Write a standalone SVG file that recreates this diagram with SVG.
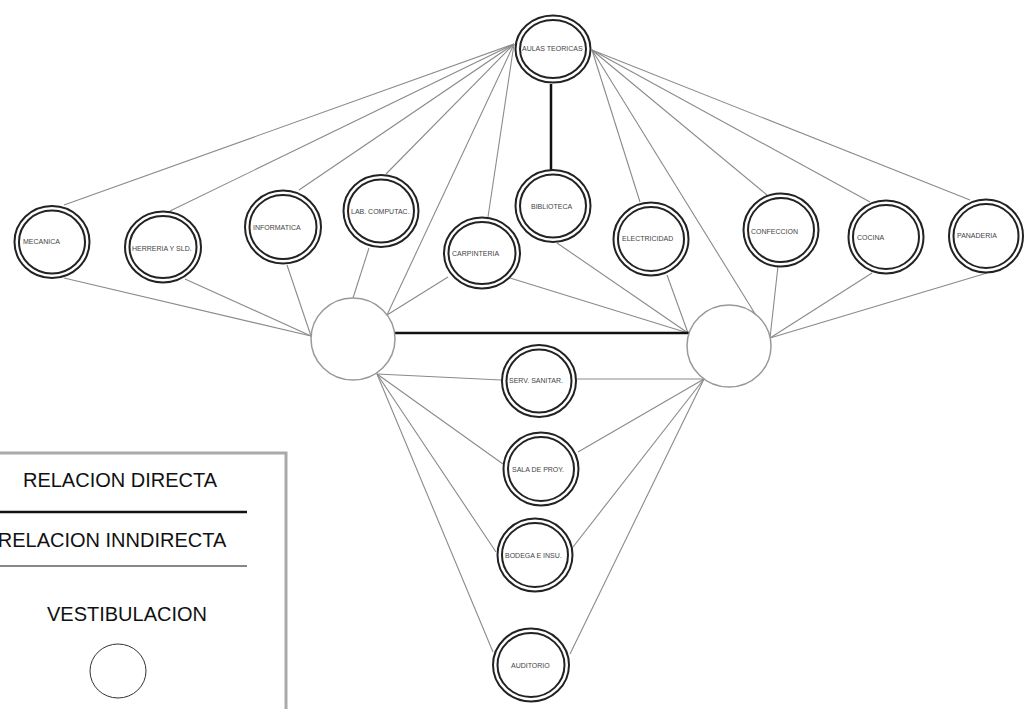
<svg xmlns="http://www.w3.org/2000/svg" width="1029" height="709" viewBox="0 0 1029 709">
<style>
.o{fill:#fff;stroke:#222;stroke-width:2}
.i{fill:none;stroke:#222;stroke-width:2}
.t{font-family:"Liberation Sans",Arial,sans-serif;font-size:7px;fill:#444}
.c line{stroke:#8a8a8a;stroke-width:1.1}
.c .d{stroke:#111;stroke-width:2.5}
.v{fill:#fff;stroke:#999;stroke-width:1.5}
.lg{font-family:"Liberation Sans",Arial,sans-serif;font-size:20px;fill:#111}
</style>
<rect width="1029" height="709" fill="#fff"/>
<g class="c" id="connectors">
<line x1="514" y1="44" x2="64" y2="205"/>
<line x1="514" y1="44" x2="170" y2="211"/>
<line x1="514" y1="44" x2="299" y2="190"/>
<line x1="514" y1="44" x2="386" y2="174"/>
<line x1="514" y1="44" x2="387" y2="315"/>
<line x1="514" y1="44" x2="488" y2="217"/>
<line x1="592" y1="50" x2="640" y2="202"/>
<line x1="592" y1="50" x2="770" y2="338"/>
<line x1="592" y1="50" x2="767" y2="195"/>
<line x1="592" y1="50" x2="870" y2="202"/>
<line x1="592" y1="50" x2="970" y2="200"/>
<line class="d" x1="551" y1="84" x2="551" y2="170"/>
<line x1="64" y1="278" x2="311" y2="336"/>
<line x1="185" y1="279" x2="311" y2="336"/>
<line x1="287" y1="265" x2="311" y2="336"/>
<line x1="369" y1="248" x2="353" y2="298"/>
<line x1="448" y1="277" x2="387" y2="315"/>
<line x1="510" y1="278" x2="688" y2="333"/>
<line x1="557" y1="243" x2="688" y2="333"/>
<line x1="667" y1="275" x2="688" y2="333"/>
<line x1="778" y1="266" x2="770" y2="338"/>
<line x1="872" y1="273" x2="770" y2="338"/>
<line x1="987" y1="273" x2="770" y2="338"/>
<line class="d" x1="394" y1="333" x2="689" y2="333"/>
<line x1="377" y1="374" x2="501" y2="380"/>
<line x1="377" y1="374" x2="503" y2="464"/>
<line x1="377" y1="374" x2="496" y2="552"/>
<line x1="377" y1="374" x2="493" y2="652"/>
<line x1="577" y1="379" x2="704" y2="379"/>
<line x1="578" y1="452" x2="704" y2="379"/>
<line x1="573" y1="547" x2="704" y2="379"/>
<line x1="570" y1="654" x2="704" y2="379"/>
</g>
<g id="vest-left"><ellipse class="v" cx="353" cy="339" rx="42" ry="41"/></g>
<g id="vest-right"><ellipse class="v" cx="729" cy="346" rx="42" ry="41"/></g>
<g id="aulas"><ellipse class="o" cx="553" cy="49" rx="37.5" ry="33.5"/><ellipse class="i" cx="553" cy="49" rx="33" ry="29"/><text class="t" x="522" y="51">AULAS TEORICAS</text></g>
<g id="mecanica"><ellipse class="o" cx="52" cy="242" rx="37.5" ry="36"/><ellipse class="i" cx="52" cy="242" rx="33" ry="31.5"/><text class="t" x="23" y="244">MECANICA</text></g>
<g id="herreria"><ellipse class="o" cx="163" cy="247" rx="38" ry="35.5"/><ellipse class="i" cx="163" cy="247" rx="33.5" ry="31"/><text class="t" x="132" y="251">HERRERIA Y SLD.</text></g>
<g id="informatica"><ellipse class="o" cx="283" cy="227" rx="38" ry="36.5"/><ellipse class="i" cx="283" cy="227" rx="33.5" ry="32"/><text class="t" x="253" y="230">INFORMATICA</text></g>
<g id="lab"><ellipse class="o" cx="381" cy="211" rx="37.5" ry="36"/><ellipse class="i" cx="381" cy="211" rx="33" ry="31.5"/><text class="t" x="351" y="214">LAB. COMPUTAC.</text></g>
<g id="carpinteria"><ellipse class="o" cx="482" cy="253" rx="38" ry="35.5"/><ellipse class="i" cx="482" cy="253" rx="33.5" ry="31"/><text class="t" x="452" y="256">CARPINTERIA</text></g>
<g id="biblioteca"><ellipse class="o" cx="553" cy="206" rx="37.5" ry="36"/><ellipse class="i" cx="553" cy="206" rx="33" ry="31.5"/><text class="t" x="531" y="209">BIBLIOTECA</text></g>
<g id="electricidad"><ellipse class="o" cx="651" cy="239" rx="37.5" ry="36.5"/><ellipse class="i" cx="651" cy="239" rx="33" ry="32"/><text class="t" x="622" y="241">ELECTRICIDAD</text></g>
<g id="confeccion"><ellipse class="o" cx="781" cy="230" rx="37.5" ry="36.5"/><ellipse class="i" cx="781" cy="230" rx="33" ry="32"/><text class="t" x="751" y="234">CONFECCION</text></g>
<g id="cocina"><ellipse class="o" cx="886" cy="237" rx="37.5" ry="36.5"/><ellipse class="i" cx="886" cy="237" rx="33" ry="32"/><text class="t" x="857" y="240">COCINA</text></g>
<g id="panaderia"><ellipse class="o" cx="986" cy="236" rx="37" ry="36.5"/><ellipse class="i" cx="986" cy="236" rx="32.5" ry="32"/><text class="t" x="957" y="238">PANADERIA</text></g>
<g id="serv"><ellipse class="o" cx="539" cy="381" rx="37" ry="36"/><ellipse class="i" cx="539" cy="381" rx="32.5" ry="31.5"/><text class="t" x="509" y="383">SERV. SANITAR.</text></g>
<g id="sala"><ellipse class="o" cx="541" cy="469" rx="37.5" ry="36.5"/><ellipse class="i" cx="541" cy="469" rx="33" ry="32"/><text class="t" x="512" y="472">SALA DE PROY.</text></g>
<g id="bodega"><ellipse class="o" cx="535" cy="555" rx="37.5" ry="36.5"/><ellipse class="i" cx="535" cy="555" rx="33" ry="32"/><text class="t" x="505" y="558">BODEGA E INSU.</text></g>
<g id="auditorio"><ellipse class="o" cx="531" cy="665" rx="38" ry="36.5"/><ellipse class="i" cx="531" cy="665" rx="33.5" ry="32"/><text class="t" x="511" y="668">AUDITORIO</text></g>
<g id="legend">
<rect x="-10" y="453" width="296" height="270" fill="#fff" stroke="#aaa" stroke-width="3"/>
<text class="lg" x="120" y="487" text-anchor="middle">RELACION DIRECTA</text>
<line x1="0" y1="512" x2="247" y2="512" stroke="#111" stroke-width="2.5"/>
<text class="lg" x="112" y="547" text-anchor="middle">RELACION INNDIRECTA</text>
<line x1="0" y1="566" x2="247" y2="566" stroke="#111" stroke-width="1.2"/>
<text class="lg" x="127" y="621" text-anchor="middle">VESTIBULACION</text>
<ellipse cx="118" cy="671" rx="28" ry="27" fill="#fff" stroke="#333" stroke-width="1"/>
</g>
</svg>
